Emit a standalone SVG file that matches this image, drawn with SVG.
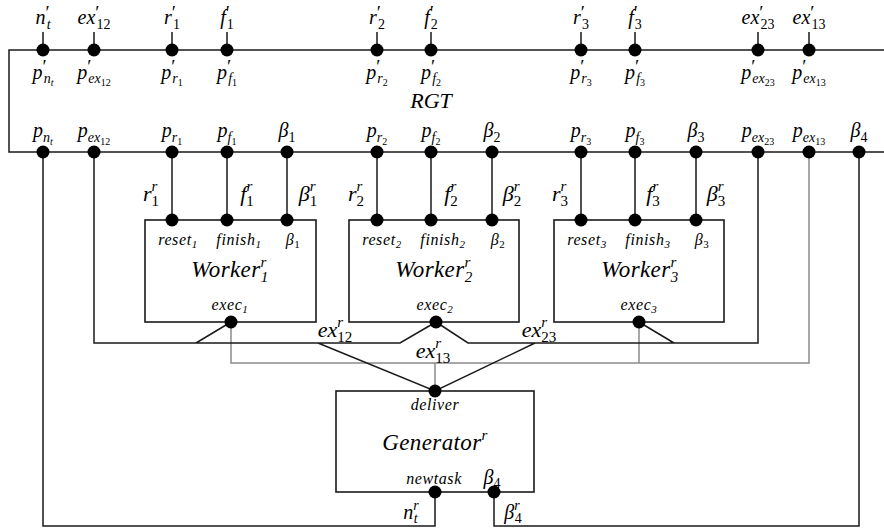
<svg xmlns="http://www.w3.org/2000/svg" width="884" height="529" viewBox="0 0 884 529">
<style>
.t{font-family:"Liberation Serif","Times New Roman",serif;font-style:italic;fill:#000;text-anchor:middle}
.l{font-size:20px}
.m{font-size:22px}
.i{font-size:16px;letter-spacing:0.6px}
.w{font-size:23px;letter-spacing:0.4px}
.u{font-style:normal}
.s{font-size:14px}
.p{font-size:19px;font-style:normal}
.ss{font-size:10px}
.s2{font-size:15px}
.si{font-size:11px}
.ln{fill:none;stroke:#1a1a1a;stroke-width:1.5}
.gr{fill:none;stroke:#8c8c8c;stroke-width:1.5}
.box{fill:#fff;stroke:#1a1a1a;stroke-width:1.6}
.dot{fill:#000}
</style>
<rect width="884" height="529" fill="#fff"/>

<g id="connectors">
  <path class="ln" d="M884,50 H9 V152 H884"/>
  <path class="ln" d="M43,32V50 M94,32V50 M172,32V50 M227,32V50 M377,32V50 M431,32V50 M581,32V50 M635,32V50 M758,32V50 M809,32V50"/>
  <path class="ln" d="M172,152V220 M227,152V220 M287,152V220 M377,152V220 M431,152V220 M492,152V220 M581,152V220 M635,152V220 M696,152V220"/>
  <path class="gr" d="M809,152 V363 H231 V322 M639,322 V363 M435,363 V391"/>
  <path class="ln" d="M94,152 V343 H400 L436,322 L468,343 H758 V152 M196,343 L231,322 M639,322 L674,343 M318,343 L435,391 L535,343"/>
  <path class="ln" d="M43,152 V526 H435 V492 M859,152 V526 H494 V492"/>
</g>

<g id="RGT">
  <g class="dot">
    <circle cx="43" cy="50" r="6.5"/><circle cx="94" cy="50" r="6.5"/><circle cx="172" cy="50" r="6.5"/><circle cx="227" cy="50" r="6.5"/><circle cx="377" cy="50" r="6.5"/><circle cx="431" cy="50" r="6.5"/><circle cx="581" cy="50" r="6.5"/><circle cx="635" cy="50" r="6.5"/><circle cx="758" cy="50" r="6.5"/><circle cx="809" cy="50" r="6.5"/>
    <circle cx="43" cy="152" r="6.5"/><circle cx="94" cy="152" r="6.5"/><circle cx="172" cy="152" r="6.5"/><circle cx="227" cy="152" r="6.5"/><circle cx="287" cy="152" r="6.5"/><circle cx="377" cy="152" r="6.5"/><circle cx="431" cy="152" r="6.5"/><circle cx="492" cy="152" r="6.5"/><circle cx="581" cy="152" r="6.5"/><circle cx="635" cy="152" r="6.5"/><circle cx="696" cy="152" r="6.5"/><circle cx="758" cy="152" r="6.5"/><circle cx="809" cy="152" r="6.5"/><circle cx="859" cy="152" r="6.5"/>
  </g>
  <text class="t l" x="43" y="24">n<tspan class="p" dy="-5">′</tspan><tspan class="s" dx="-3" dy="10">t</tspan></text>
  <text class="t l" x="94" y="24">ex<tspan class="p" dy="-5">′</tspan><tspan class="u s" dx="-3" dy="10">12</tspan></text>
  <text class="t l" x="172" y="24">r<tspan class="p" dy="-5">′</tspan><tspan class="u s" dx="-3" dy="10">1</tspan></text>
  <text class="t l" x="227" y="24">f<tspan class="p" dy="-5">′</tspan><tspan class="u s" dx="-3" dy="10">1</tspan></text>
  <text class="t l" x="377" y="24">r<tspan class="p" dy="-5">′</tspan><tspan class="u s" dx="-3" dy="10">2</tspan></text>
  <text class="t l" x="431" y="24">f<tspan class="p" dy="-5">′</tspan><tspan class="u s" dx="-3" dy="10">2</tspan></text>
  <text class="t l" x="581" y="24">r<tspan class="p" dy="-5">′</tspan><tspan class="u s" dx="-3" dy="10">3</tspan></text>
  <text class="t l" x="635" y="24">f<tspan class="p" dy="-5">′</tspan><tspan class="u s" dx="-3" dy="10">3</tspan></text>
  <text class="t l" x="758" y="24">ex<tspan class="p" dy="-5">′</tspan><tspan class="u s" dx="-3" dy="10">23</tspan></text>
  <text class="t l" x="809" y="24">ex<tspan class="p" dy="-5">′</tspan><tspan class="u s" dx="-3" dy="10">13</tspan></text>

  <text class="t l" x="43" y="79">p<tspan class="p" dy="-6">′</tspan><tspan class="s" dx="-3" dy="10">n</tspan><tspan class="ss" dy="3">t</tspan></text>
  <text class="t l" x="94" y="79">p<tspan class="p" dy="-6">′</tspan><tspan class="s" dx="-3" dy="10">ex</tspan><tspan class="u ss" dy="3">12</tspan></text>
  <text class="t l" x="172" y="79">p<tspan class="p" dy="-6">′</tspan><tspan class="s" dx="-3" dy="10">r</tspan><tspan class="u ss" dy="3">1</tspan></text>
  <text class="t l" x="227" y="79">p<tspan class="p" dy="-6">′</tspan><tspan class="s" dx="-3" dy="10">f</tspan><tspan class="u ss" dy="3">1</tspan></text>
  <text class="t l" x="377" y="79">p<tspan class="p" dy="-6">′</tspan><tspan class="s" dx="-3" dy="10">r</tspan><tspan class="u ss" dy="3">2</tspan></text>
  <text class="t l" x="431" y="79">p<tspan class="p" dy="-6">′</tspan><tspan class="s" dx="-3" dy="10">f</tspan><tspan class="u ss" dy="3">2</tspan></text>
  <text class="t l" x="581" y="79">p<tspan class="p" dy="-6">′</tspan><tspan class="s" dx="-3" dy="10">r</tspan><tspan class="u ss" dy="3">3</tspan></text>
  <text class="t l" x="635" y="79">p<tspan class="p" dy="-6">′</tspan><tspan class="s" dx="-3" dy="10">f</tspan><tspan class="u ss" dy="3">3</tspan></text>
  <text class="t l" x="758" y="79">p<tspan class="p" dy="-6">′</tspan><tspan class="s" dx="-3" dy="10">ex</tspan><tspan class="u ss" dy="3">23</tspan></text>
  <text class="t l" x="809" y="79">p<tspan class="p" dy="-6">′</tspan><tspan class="s" dx="-3" dy="10">ex</tspan><tspan class="u ss" dy="3">13</tspan></text>

  <text class="t m" x="431" y="108">RGT</text>

  <text class="t l" x="43" y="137">p<tspan class="s" dy="5">n</tspan><tspan class="ss" dy="3">t</tspan></text>
  <text class="t l" x="94" y="137">p<tspan class="s" dy="5">ex</tspan><tspan class="u ss" dy="3">12</tspan></text>
  <text class="t l" x="172" y="137">p<tspan class="s" dy="5">r</tspan><tspan class="u ss" dy="3">1</tspan></text>
  <text class="t l" x="227" y="137">p<tspan class="s" dy="5">f</tspan><tspan class="u ss" dy="3">1</tspan></text>
  <text class="t l" x="287" y="137">β<tspan class="u s" dy="5">1</tspan></text>
  <text class="t l" x="377" y="137">p<tspan class="s" dy="5">r</tspan><tspan class="u ss" dy="3">2</tspan></text>
  <text class="t l" x="431" y="137">p<tspan class="s" dy="5">f</tspan><tspan class="u ss" dy="3">2</tspan></text>
  <text class="t l" x="492" y="137">β<tspan class="u s" dy="5">2</tspan></text>
  <text class="t l" x="581" y="137">p<tspan class="s" dy="5">r</tspan><tspan class="u ss" dy="3">3</tspan></text>
  <text class="t l" x="635" y="137">p<tspan class="s" dy="5">f</tspan><tspan class="u ss" dy="3">3</tspan></text>
  <text class="t l" x="696" y="137">β<tspan class="u s" dy="5">3</tspan></text>
  <text class="t l" x="758" y="137">p<tspan class="s" dy="5">ex</tspan><tspan class="u ss" dy="3">23</tspan></text>
  <text class="t l" x="809" y="137">p<tspan class="s" dy="5">ex</tspan><tspan class="u ss" dy="3">13</tspan></text>
  <text class="t l" x="859" y="137">β<tspan class="u s" dy="5">4</tspan></text>
</g>

<g id="link-labels">
  <text class="t m" x="151" y="201">r<tspan class="s2" dy="-10">r</tspan><tspan class="u s2" dx="-6" dy="15">1</tspan></text>
  <text class="t m" x="247" y="201">f<tspan class="s2" dy="-10">r</tspan><tspan class="u s2" dx="-6" dy="15">1</tspan></text>
  <text class="t m" x="308" y="201">β<tspan class="s2" dy="-10">r</tspan><tspan class="u s2" dx="-6" dy="15">1</tspan></text>
  <text class="t m" x="356" y="201">r<tspan class="s2" dy="-10">r</tspan><tspan class="u s2" dx="-6" dy="15">2</tspan></text>
  <text class="t m" x="451" y="201">f<tspan class="s2" dy="-10">r</tspan><tspan class="u s2" dx="-6" dy="15">2</tspan></text>
  <text class="t m" x="512" y="201">β<tspan class="s2" dy="-10">r</tspan><tspan class="u s2" dx="-6" dy="15">2</tspan></text>
  <text class="t m" x="560" y="201">r<tspan class="s2" dy="-10">r</tspan><tspan class="u s2" dx="-6" dy="15">3</tspan></text>
  <text class="t m" x="653" y="201">f<tspan class="s2" dy="-10">r</tspan><tspan class="u s2" dx="-6" dy="15">3</tspan></text>
  <text class="t m" x="716" y="201">β<tspan class="s2" dy="-10">r</tspan><tspan class="u s2" dx="-6" dy="15">3</tspan></text>
  <text class="t m" x="335" y="337">ex<tspan class="s2" dy="-10">r</tspan><tspan class="u s2" dx="-6" dy="15">12</tspan></text>
  <text class="t m" x="433" y="358">ex<tspan class="s2" dy="-10">r</tspan><tspan class="u s2" dx="-6" dy="15">13</tspan></text>
  <text class="t m" x="539" y="337">ex<tspan class="s2" dy="-10">r</tspan><tspan class="u s2" dx="-6" dy="15">23</tspan></text>
  <text class="t l" x="411" y="519">n<tspan class="s" dy="-9">r</tspan><tspan class="s" dx="-5" dy="13">t</tspan></text>
  <text class="t l" x="513" y="519">β<tspan class="s" dy="-9">r</tspan><tspan class="u s" dx="-5" dy="13">4</tspan></text>
</g>

<g id="worker1">
  <rect class="box" x="145" y="220" width="171" height="102"/>
  <circle class="dot" cx="172" cy="220" r="6.5"/><circle class="dot" cx="227" cy="220" r="6.5"/><circle class="dot" cx="287" cy="220" r="6.5"/><circle class="dot" cx="231" cy="322" r="6.5"/>
  <text class="t i" x="178" y="245">reset<tspan class="si" dy="3">1</tspan></text>
  <text class="t i" x="239" y="245">finish<tspan class="si" dy="3">1</tspan></text>
  <text class="t i" x="293" y="245">β<tspan class="u si" dy="3">1</tspan></text>
  <text class="t w" x="230" y="277">Worker<tspan class="s2" dy="-10">r</tspan><tspan class="s2" dx="-6" dy="15">1</tspan></text>
  <text class="t i" x="230" y="310">exec<tspan class="si" dy="3">1</tspan></text>
</g>

<g id="worker2">
  <rect class="box" x="349" y="220" width="170" height="102"/>
  <circle class="dot" cx="377" cy="220" r="6.5"/><circle class="dot" cx="431" cy="220" r="6.5"/><circle class="dot" cx="492" cy="220" r="6.5"/><circle class="dot" cx="436" cy="322" r="6.5"/>
  <text class="t i" x="382" y="245">reset<tspan class="si" dy="3">2</tspan></text>
  <text class="t i" x="443" y="245">finish<tspan class="si" dy="3">2</tspan></text>
  <text class="t i" x="498" y="245">β<tspan class="u si" dy="3">2</tspan></text>
  <text class="t w" x="434" y="277">Worker<tspan class="s2" dy="-10">r</tspan><tspan class="s2" dx="-6" dy="15">2</tspan></text>
  <text class="t i" x="435" y="310">exec<tspan class="si" dy="3">2</tspan></text>
</g>

<g id="worker3">
  <rect class="box" x="554" y="220" width="170" height="102"/>
  <circle class="dot" cx="581" cy="220" r="6.5"/><circle class="dot" cx="635" cy="220" r="6.5"/><circle class="dot" cx="696" cy="220" r="6.5"/><circle class="dot" cx="639" cy="322" r="6.5"/>
  <text class="t i" x="587" y="245">reset<tspan class="si" dy="3">3</tspan></text>
  <text class="t i" x="648" y="245">finish<tspan class="si" dy="3">3</tspan></text>
  <text class="t i" x="702" y="245">β<tspan class="u si" dy="3">3</tspan></text>
  <text class="t w" x="640" y="277">Worker<tspan class="s2" dy="-10">r</tspan><tspan class="s2" dx="-6" dy="15">3</tspan></text>
  <text class="t i" x="639" y="310">exec<tspan class="si" dy="3">3</tspan></text>
</g>

<g id="generator">
  <rect class="box" x="336" y="391" width="198" height="101"/>
  <circle class="dot" cx="435" cy="391" r="6.5"/><circle class="dot" cx="435" cy="492" r="6.5"/><circle class="dot" cx="494" cy="492" r="6.5"/>
  <text class="t i" x="435" y="410">deliver</text>
  <text class="t w" x="435" y="450">Generator<tspan class="s2" dy="-10">r</tspan></text>
  <text class="t i" x="434" y="484">newtask</text>
  <text class="t l" x="492" y="484">β<tspan class="u s" dy="4">4</tspan></text>
</g>
</svg>
